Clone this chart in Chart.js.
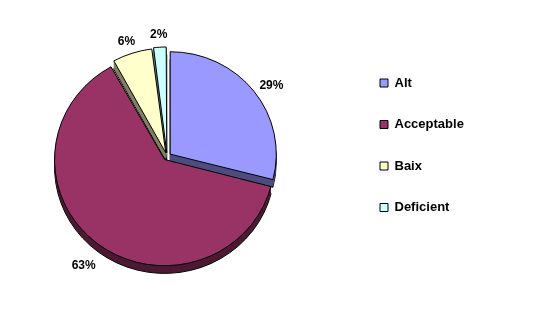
<!DOCTYPE html>
<html>
<head>
<meta charset="utf-8">
<script src="https://cdn.jsdelivr.net/npm/chart.js@4/dist/chart.umd.min.js"></script>
<style>
  html, body { margin: 0; padding: 0; background: #ffffff; }
  #wrap { width: 559px; height: 329px; }
</style>
</head>
<body>
<div id="wrap"><canvas id="c" width="559" height="329"></canvas></div>
<script>
// ---- data ----
const categories = ['Alt', 'Acceptable', 'Baix', 'Deficient'];
const values = [29, 63, 6, 2];
const topColors = ['#9999FF', '#993366', '#FFFFCC', '#CCFFFF'];
const sideColors = ['#4D4D80', '#4D1A33', '#808066', '#668080'];

// ---- layout / style constants ----
const PIE_BOX = { left: 52.5, right: 281.5, top: 42, bottom: 271 };
const TILT = 0.965;
const DEPTH = 8;
const LABEL_GAP = 10;
const LABEL_DY = 3.5;
const LEGEND_LEFT = 351.5;
const FONT = '"Liberation Sans", Arial, sans-serif';

const total = values.reduce((a, b) => a + b, 0);
const pct = i => Math.round(values[i] / total * 100) + '%';

function arcGeom(arc) {
  const o = (arc.options.offset || 0) / 4;
  const mid = (arc.startAngle + arc.endAngle) / 2;
  const fix = 1 - Math.sin(Math.min(Math.PI, arc.circumference || 0));
  return {
    mid,
    r: arc.outerRadius + o * fix,
    x: arc.x + Math.cos(mid) * o,
    y: arc.y + Math.sin(mid) * o
  };
}

const pie3d = {
  id: 'pie3d',
  afterLayout(chart) {
    const ca = chart.chartArea;
    ca.left = PIE_BOX.left; ca.right = PIE_BOX.right;
    ca.top = PIE_BOX.top; ca.bottom = PIE_BOX.bottom;
    ca.width = ca.right - ca.left; ca.height = ca.bottom - ca.top;
    const lg = chart.legend;
    if (lg) { const w = lg.width; lg.left = LEGEND_LEFT; lg.right = LEGEND_LEFT + w; }
  },
  beforeDatasetsDraw(chart) {
    const meta = chart.getDatasetMeta(0);
    const ctx = chart.ctx;
    const cx = meta.data[0].x, cy = meta.data[0].y;
    ctx.save();
    ctx.translate(cx, cy); ctx.scale(1, TILT); ctx.translate(-cx, -cy);
    const d = Math.round(DEPTH / TILT);
    for (let k = d; k >= 1; k--) {
      meta.data.forEach((arc, i) => {
        const g = arcGeom(arc);
        const y = g.y + k;
        ctx.beginPath();
        ctx.moveTo(g.x, y);
        ctx.arc(g.x, y, g.r, arc.startAngle, arc.endAngle);
        ctx.closePath();
        ctx.fillStyle = sideColors[i];
        ctx.fill();
        if (k === d) { ctx.strokeStyle = '#000'; ctx.lineWidth = 1; ctx.stroke(); }
      });
    }
  },
  afterDatasetsDraw(chart) {
    const ctx = chart.ctx;
    ctx.restore();
    const meta = chart.getDatasetMeta(0);
    const cy = meta.data[0].y;
    ctx.save();
    ctx.font = 'bold 12px ' + FONT;
    ctx.fillStyle = '#000';
    ctx.textAlign = 'center';
    ctx.textBaseline = 'middle';
    meta.data.forEach((arc, i) => {
      const g = arcGeom(arc);
      const c = Math.cos(g.mid), s = Math.sin(g.mid);
      const txt = pct(i);
      const w = ctx.measureText(txt).width, h = 12;
      const px = g.x + c * (g.r + LABEL_GAP);
      const py = cy + (g.y - cy + s * (g.r + LABEL_GAP)) * TILT + DEPTH * Math.max(0, s);
      ctx.fillText(txt, px + c * w / 2, py + s * h / 2 + LABEL_DY);
    });
    ctx.restore();
  }
};

new Chart(document.getElementById('c'), {
  type: 'pie',
  data: {
    labels: categories,
    datasets: [{
      data: values,
      backgroundColor: topColors,
      borderColor: '#000000',
      borderWidth: 1,
      offset: 16
    }]
  },
  options: {
    responsive: false,
    animation: false,
    events: [],
    layout: { padding: { top: 48, bottom: 0, left: 0, right: 0 } },
    plugins: {
      legend: {
        position: 'right',
        align: 'start',
        labels: {
          boxWidth: 8,
          boxHeight: 8,
          padding: 28.5,
          color: '#000',
          font: { family: FONT, size: 13, weight: 'bold' }
        }
      },
      tooltip: { enabled: false }
    }
  },
  plugins: [pie3d]
});
</script>
</body>
</html>
